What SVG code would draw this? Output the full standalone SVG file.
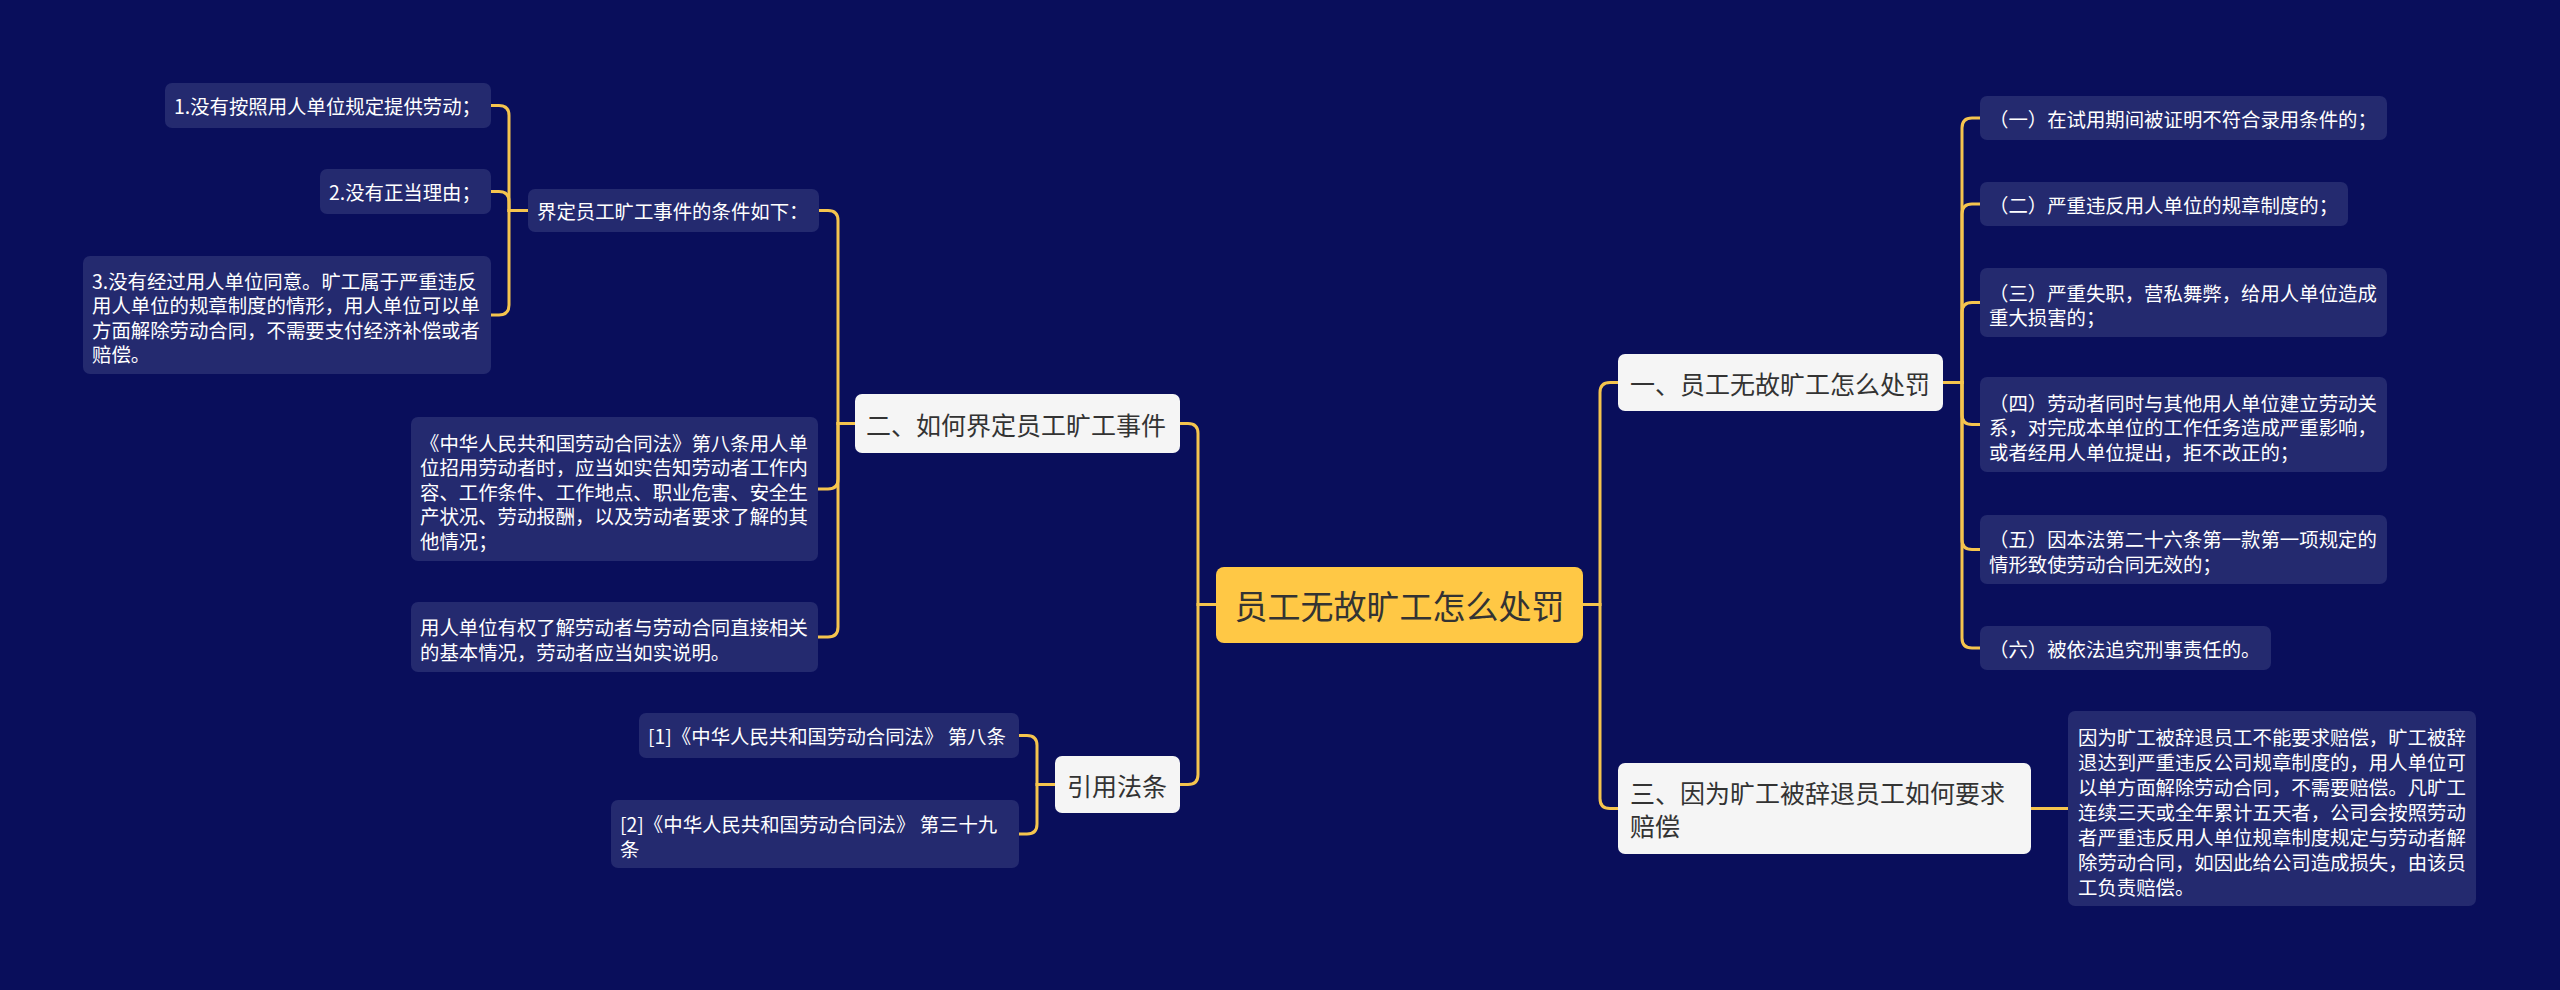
<svg xmlns="http://www.w3.org/2000/svg" width="2560" height="990" viewBox="0 0 2560 990">
<style>
.bg{fill:#090e5b}
.leaf rect{fill:#242a6f}
.leaf text{fill:#ffffff;font-size:19.4px}
.l1 rect{fill:#f5f5f5}
.l1 text{fill:#333333;font-size:25px}
.root rect{fill:#ffc845}
.root text{fill:#333333;font-size:33px}
text{font-family:"Noto Sans CJK SC","Noto Sans",sans-serif;dominant-baseline:central}
#connectors path{fill:none;stroke:#f5c44e;stroke-width:3;stroke-linecap:round}
</style>
<rect class="bg" x="0" y="0" width="2560" height="990"/>
<g id="connectors">
<path d="M1216 604.5 H1198 V433.5 Q1198 423.5 1188 423.5 H1180"/>
<path d="M1216 604.5 H1198 V774.5 Q1198 784.5 1188 784.5 H1180"/>
<path d="M1583 604.5 H1600 V392.5 Q1600 382.5 1610 382.5 H1618"/>
<path d="M1583 604.5 H1600 V798.5 Q1600 808.5 1610 808.5 H1618"/>
<path d="M855 423.5 H838 V220.5 Q838 210.5 828 210.5 H819"/>
<path d="M855 423.5 H838 V479 Q838 489 828 489 H818"/>
<path d="M855 423.5 H838 V627 Q838 637 828 637 H818"/>
<path d="M528 210.5 H509 V115.5 Q509 105.5 499 105.5 H491"/>
<path d="M528 210.5 H509 V201.5 Q509 191.5 499 191.5 H491"/>
<path d="M528 210.5 H509 V305 Q509 315 499 315 H491"/>
<path d="M1055 784.5 H1037 V745.5 Q1037 735.5 1027 735.5 H1019"/>
<path d="M1055 784.5 H1037 V824 Q1037 834 1027 834 H1019"/>
<path d="M1943 382.5 H1962 V128 Q1962 118 1972 118 H1980"/>
<path d="M1943 382.5 H1962 V214 Q1962 204 1972 204 H1980"/>
<path d="M1943 382.5 H1962 V312.5 Q1962 302.5 1972 302.5 H1980"/>
<path d="M1943 382.5 H1962 V414.5 Q1962 424.5 1972 424.5 H1980"/>
<path d="M1943 382.5 H1962 V539.5 Q1962 549.5 1972 549.5 H1980"/>
<path d="M1943 382.5 H1962 V638 Q1962 648 1972 648 H1980"/>
<path d="M2031 808.5 H2068"/>
</g>
<g id="root" class="root"><rect x="1216" y="567" width="367" height="76" rx="8"/><text x="1399.5" y="604.5" text-anchor="middle">员工无故旷工怎么处罚</text></g>
<g id="n2" class="l1"><rect x="855" y="394" width="325" height="59" rx="7"/><text x="866" y="423.5">二、如何界定员工旷工事件</text></g>
<g id="n_law" class="l1"><rect x="1055" y="756" width="125" height="57" rx="7"/><text x="1067" y="784.5">引用法条</text></g>
<g id="n1" class="l1"><rect x="1618" y="354" width="325" height="57" rx="7"/><text x="1630" y="382.5">一、员工无故旷工怎么处罚</text></g>
<g id="n3" class="l1"><rect x="1618" y="763" width="413" height="91" rx="7"/><text x="1630"><tspan x="1630" y="792">三、因为旷工被辞退员工如何要求</tspan><tspan x="1630" y="825">赔偿</tspan></text></g>
<g id="n2a" class="leaf"><rect x="528" y="189" width="291" height="43" rx="7"/><text x="537" y="210.5">界定员工旷工事件的条件如下：</text></g>
<g id="n2a1" class="leaf"><rect x="165" y="83" width="326" height="45" rx="7"/><text x="174" y="105.5">1.没有按照用人单位规定提供劳动；</text></g>
<g id="n2a2" class="leaf"><rect x="320" y="169" width="171" height="45" rx="7"/><text x="329" y="191.5">2.没有正当理由；</text></g>
<g id="n2a3" class="leaf"><rect x="83" y="256" width="408" height="118" rx="7"/><text x="92"><tspan x="92" y="279.5">3.没有经过用人单位同意。旷工属于严重违反</tspan><tspan x="92" y="304">用人单位的规章制度的情形，用人单位可以单</tspan><tspan x="92" y="328.5">方面解除劳动合同，不需要支付经济补偿或者</tspan><tspan x="92" y="353">赔偿。</tspan></text></g>
<g id="n2b" class="leaf"><rect x="411" y="417" width="407" height="144" rx="7"/><text x="420"><tspan x="420" y="441.5">《中华人民共和国劳动合同法》第八条用人单</tspan><tspan x="420" y="466">位招用劳动者时，应当如实告知劳动者工作内</tspan><tspan x="420" y="490.5">容、工作条件、工作地点、职业危害、安全生</tspan><tspan x="420" y="515">产状况、劳动报酬，以及劳动者要求了解的其</tspan><tspan x="420" y="539.5">他情况；</tspan></text></g>
<g id="n2c" class="leaf"><rect x="411" y="602" width="407" height="70" rx="7"/><text x="420"><tspan x="420" y="626">用人单位有权了解劳动者与劳动合同直接相关</tspan><tspan x="420" y="650.5">的基本情况，劳动者应当如实说明。</tspan></text></g>
<g id="law1" class="leaf"><rect x="639" y="713" width="380" height="45" rx="7"/><text x="648" y="735.5">[1]《中华人民共和国劳动合同法》 第八条</text></g>
<g id="law2" class="leaf"><rect x="611" y="800" width="408" height="68" rx="7"/><text x="620"><tspan x="620" y="823">[2]《中华人民共和国劳动合同法》 第三十九</tspan><tspan x="620" y="847.5">条</tspan></text></g>
<g id="n1a" class="leaf"><rect x="1980" y="96" width="407" height="44" rx="7"/><text x="1989" y="118">（一）在试用期间被证明不符合录用条件的；</text></g>
<g id="n1b" class="leaf"><rect x="1980" y="182" width="368" height="44" rx="7"/><text x="1989" y="204">（二）严重违反用人单位的规章制度的；</text></g>
<g id="n1c" class="leaf"><rect x="1980" y="268" width="407" height="69" rx="7"/><text x="1989"><tspan x="1989" y="291.5">（三）严重失职，营私舞弊，给用人单位造成</tspan><tspan x="1989" y="316">重大损害的；</tspan></text></g>
<g id="n1d" class="leaf"><rect x="1980" y="377" width="407" height="95" rx="7"/><text x="1989"><tspan x="1989" y="401.5">（四）劳动者同时与其他用人单位建立劳动关</tspan><tspan x="1989" y="426">系，对完成本单位的工作任务造成严重影响，</tspan><tspan x="1989" y="450.5">或者经用人单位提出，拒不改正的；</tspan></text></g>
<g id="n1e" class="leaf"><rect x="1980" y="515" width="407" height="69" rx="7"/><text x="1989"><tspan x="1989" y="538">（五）因本法第二十六条第一款第一项规定的</tspan><tspan x="1989" y="562.5">情形致使劳动合同无效的；</tspan></text></g>
<g id="n1f" class="leaf"><rect x="1980" y="626" width="291" height="44" rx="7"/><text x="1989" y="648">（六）被依法追究刑事责任的。</text></g>
<g id="n3a" class="leaf"><rect x="2068" y="711" width="408" height="195" rx="7"/><text x="2078"><tspan x="2078" y="735.5">因为旷工被辞退员工不能要求赔偿，旷工被辞</tspan><tspan x="2078" y="760.5">退达到严重违反公司规章制度的，用人单位可</tspan><tspan x="2078" y="785.5">以单方面解除劳动合同，不需要赔偿。凡旷工</tspan><tspan x="2078" y="810.5">连续三天或全年累计五天者，公司会按照劳动</tspan><tspan x="2078" y="835.5">者严重违反用人单位规章制度规定与劳动者解</tspan><tspan x="2078" y="860.5">除劳动合同，如因此给公司造成损失，由该员</tspan><tspan x="2078" y="885.5">工负责赔偿。</tspan></text></g>
</svg>
